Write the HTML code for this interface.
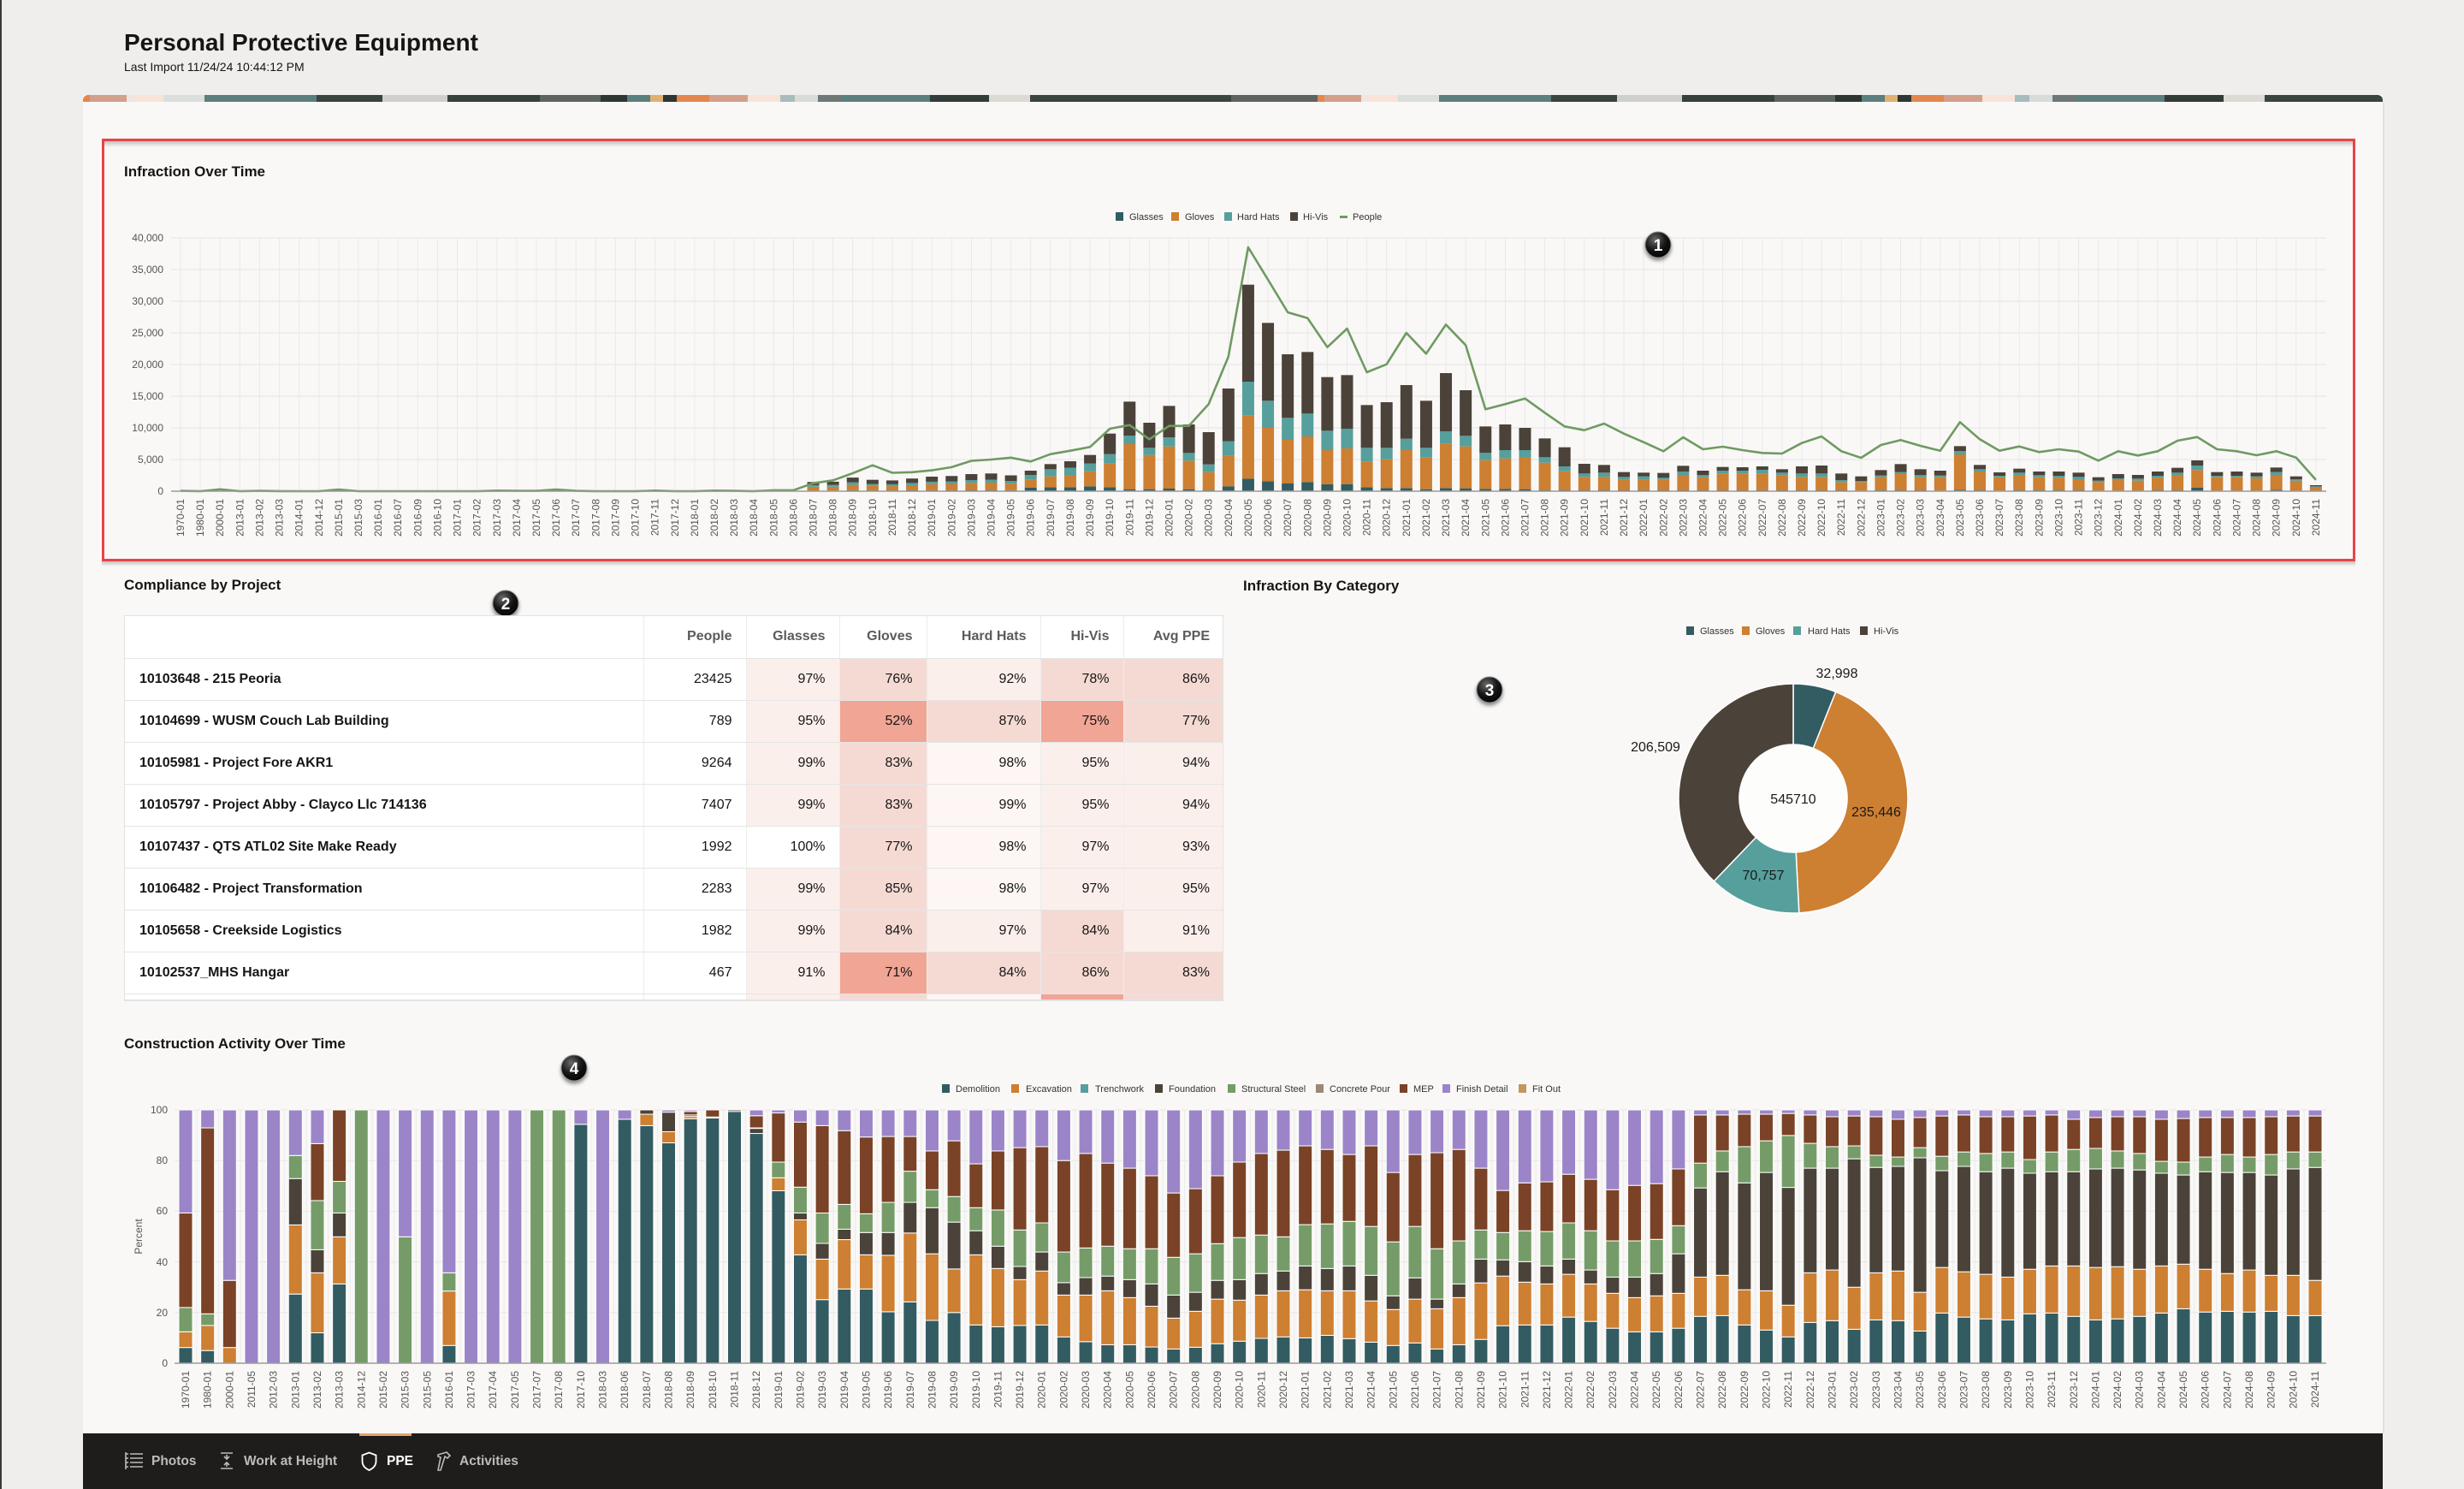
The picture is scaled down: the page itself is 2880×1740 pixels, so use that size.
<!DOCTYPE html>
<html><head><meta charset="utf-8">
<style>
*{margin:0;padding:0;box-sizing:border-box}
html,body{width:2880px;height:1740px;overflow:hidden}
body{background:#efeeec;font-family:"Liberation Sans",sans-serif;position:relative;color:#161513}
#s{position:absolute;left:0;top:0}
svg text{font-family:"Liberation Sans",sans-serif}
.ttl{font-size:17px;font-weight:bold;fill:#161513}
.yl{font-size:12px;fill:#555;text-anchor:end}
.xl text{font-size:12px;fill:#555;text-anchor:end;dominant-baseline:central}
.lg{font-size:11px;fill:#333}
.dl{font-size:16px;fill:#1a1a1a;text-anchor:middle}
.nav{font-size:15.5px;font-weight:bold;fill:#bcbcbc}
.mk{font-size:19px;font-weight:bold;fill:#fff;text-anchor:middle}
#tbl{position:absolute;left:145px;top:719px;width:1285px;height:451px;overflow:hidden;background:#fff;border:1px solid #e2e2e2;border-bottom:2px solid #e2e2e2}
#tbl table{border-collapse:collapse;table-layout:fixed;width:1284px;font-family:"Liberation Sans",sans-serif;font-size:16px;color:#161513}
#tbl td,#tbl th{height:49px;border-bottom:1px solid #e5e5e5;border-left:1px solid #ececec;text-align:right;padding:0 16px 0 0;white-space:nowrap;vertical-align:middle}
#tbl th{font-weight:bold;color:#5b5b5b}
#tbl td.n,#tbl th.n{text-align:left;padding-left:17px;font-weight:bold;border-left:none}
.L{background:#fbefec}.F{background:#fdf6f4}.P{background:#f5dad4}.S{background:#f0a595}.W{background:#fff}
</style></head><body>
<svg id="s" width="2880" height="1740" viewBox="0 0 2880 1740" xmlns="http://www.w3.org/2000/svg">
<defs>
<linearGradient id="bn" gradientUnits="userSpaceOnUse" x1="239" y1="0" x2="1682" y2="0" spreadMethod="repeat">
<stop offset="0" stop-color="#5b7f7c"/><stop offset=".0908" stop-color="#5b7f7c"/>
<stop offset=".0908" stop-color="#3a4441"/><stop offset=".1441" stop-color="#3a4441"/>
<stop offset=".1441" stop-color="#cfcfcc"/><stop offset=".1968" stop-color="#cfcfcc"/>
<stop offset=".1968" stop-color="#38403d"/><stop offset=".2717" stop-color="#38403d"/>
<stop offset=".2717" stop-color="#5d6461"/><stop offset=".3209" stop-color="#5d6461"/>
<stop offset=".3209" stop-color="#2e3633"/><stop offset=".3423" stop-color="#2e3633"/>
<stop offset=".3423" stop-color="#5b7f7c"/><stop offset=".3611" stop-color="#5b7f7c"/>
<stop offset=".3611" stop-color="#e0b070"/><stop offset=".3714" stop-color="#e0b070"/>
<stop offset=".3714" stop-color="#2e3633"/><stop offset=".3825" stop-color="#2e3633"/>
<stop offset=".3825" stop-color="#e3874d"/><stop offset=".4089" stop-color="#e3874d"/>
<stop offset=".4089" stop-color="#d3a08c"/><stop offset=".4401" stop-color="#d3a08c"/>
<stop offset=".4401" stop-color="#f9e3d9"/><stop offset=".4664" stop-color="#f9e3d9"/>
<stop offset=".4664" stop-color="#a7bcbc"/><stop offset=".4782" stop-color="#a7bcbc"/>
<stop offset=".4782" stop-color="#d9dbd8"/><stop offset=".4969" stop-color="#d9dbd8"/>
<stop offset=".4969" stop-color="#6f7876"/><stop offset=".5163" stop-color="#6f7876"/>
<stop offset=".5163" stop-color="#5b7f7c"/><stop offset=".5877" stop-color="#5b7f7c"/>
<stop offset=".5877" stop-color="#323c39"/><stop offset=".6355" stop-color="#323c39"/>
<stop offset=".6355" stop-color="#dcdad5"/><stop offset=".6687" stop-color="#dcdad5"/>
<stop offset=".6687" stop-color="#3a4441"/><stop offset=".8316" stop-color="#3a4441"/>
<stop offset=".8316" stop-color="#5d6461"/><stop offset=".9016" stop-color="#5d6461"/>
<stop offset=".9016" stop-color="#e3874d"/><stop offset=".9072" stop-color="#e3874d"/>
<stop offset=".9072" stop-color="#d3a08c"/><stop offset=".9370" stop-color="#d3a08c"/>
<stop offset=".9370" stop-color="#eee6e0"/><stop offset=".9425" stop-color="#eee6e0"/>
<stop offset=".9425" stop-color="#f9e3d9"/><stop offset=".9667" stop-color="#f9e3d9"/>
<stop offset=".9667" stop-color="#dcdedc"/><stop offset="1" stop-color="#dcdedc"/>
</linearGradient>
<linearGradient id="ish" x1="0" y1="0" x2="0" y2="1"><stop offset="0" stop-color="#000" stop-opacity=".22"/><stop offset="1" stop-color="#000" stop-opacity="0"/></linearGradient>
<radialGradient id="mkg" cx=".38" cy=".3" r=".75"><stop offset="0" stop-color="#6b6b6b"/><stop offset=".55" stop-color="#161616"/><stop offset="1" stop-color="#000"/></radialGradient>
<filter id="sh" x="-60%" y="-60%" width="220%" height="220%"><feDropShadow dx="0" dy="3" stdDeviation="2" flood-color="#000" flood-opacity=".45"/></filter>
</defs>

<rect x="0" y="0" width="2" height="1740" fill="#3a3a3a"/>
<!-- header -->
<text x="145" y="59" font-size="28" font-weight="bold" fill="#161513">Personal Protective Equipment</text>
<text x="145" y="83" font-size="14" fill="#161513">Last Import 11/24/24 10:44:12 PM</text>

<!-- card -->
<rect x="97" y="111" width="2688" height="1564" fill="#f9f8f6"/>
<rect x="2785" y="119" width="2" height="1556" fill="#e2e1de"/>
<path d="M97 119V117a6 6 0 0 1 6-6H2779a6 6 0 0 1 6 6V119Z" fill="url(#bn)"/>

<!-- red box -->
<rect x="122" y="165" width="2628" height="7" fill="url(#ish)"/>
<rect x="119" y="656" width="2634" height="6" fill="url(#ish)"/>
<rect x="120.5" y="163.5" width="2631" height="491" fill="none" stroke="#ea4346" stroke-width="3"/>

<!-- TOP CHART -->
<text x="145" y="206" class="ttl">Infraction Over Time</text>
<g>
<rect x="1304" y="248" width="9" height="10" fill="#325c62"/><text x="1320" y="257" class="lg">Glasses</text>
<rect x="1369" y="248" width="9" height="10" fill="#cd7f32"/><text x="1385" y="257" class="lg">Gloves</text>
<rect x="1431" y="248" width="9" height="10" fill="#569f9c"/><text x="1446" y="257" class="lg">Hard Hats</text>
<rect x="1508" y="248" width="9" height="10" fill="#4b4239"/><text x="1523" y="257" class="lg">Hi-Vis</text>
<rect x="1566" y="252" width="9" height="3" fill="#6f9a62"/><text x="1581" y="257" class="lg">People</text>
</g>
<path d="M200 278H2719M200 315H2719M200 352H2719M200 389H2719M200 426H2719M200 463H2719M200 500H2719M200 537H2719" stroke="#e4e4e9" stroke-width="1" fill="none"/>
<g id="vg1"></g>
<g id="bars1"></g>
<path d="M200 574H2719" stroke="#9b9b9b" stroke-width="1.5"/>
<text x="191" y="282" class="yl">40,000</text>
<text x="191" y="319" class="yl">35,000</text>
<text x="191" y="356" class="yl">30,000</text>
<text x="191" y="393" class="yl">25,000</text>
<text x="191" y="430" class="yl">20,000</text>
<text x="191" y="467" class="yl">15,000</text>
<text x="191" y="504" class="yl">10,000</text>
<text x="191" y="541" class="yl">5,000</text>
<text x="191" y="578" class="yl">0</text>
<g class="xl" transform="rotate(-90)">
<text x="-583" y="211">1970-01</text>
<text x="-583" y="234.1">1980-01</text>
<text x="-583" y="257.2">2000-01</text>
<text x="-583" y="280.3">2013-01</text>
<text x="-583" y="303.4">2013-02</text>
<text x="-583" y="326.6">2013-03</text>
<text x="-583" y="349.7">2014-01</text>
<text x="-583" y="372.8">2014-12</text>
<text x="-583" y="395.9">2015-01</text>
<text x="-583" y="419">2015-03</text>
<text x="-583" y="442.1">2016-01</text>
<text x="-583" y="465.2">2016-07</text>
<text x="-583" y="488.3">2016-09</text>
<text x="-583" y="511.4">2016-10</text>
<text x="-583" y="534.5">2017-01</text>
<text x="-583" y="557.7">2017-02</text>
<text x="-583" y="580.8">2017-03</text>
<text x="-583" y="603.9">2017-04</text>
<text x="-583" y="627">2017-05</text>
<text x="-583" y="650.1">2017-06</text>
<text x="-583" y="673.2">2017-07</text>
<text x="-583" y="696.3">2017-08</text>
<text x="-583" y="719.4">2017-09</text>
<text x="-583" y="742.5">2017-10</text>
<text x="-583" y="765.6">2017-11</text>
<text x="-583" y="788.8">2017-12</text>
<text x="-583" y="811.9">2018-01</text>
<text x="-583" y="835">2018-02</text>
<text x="-583" y="858.1">2018-03</text>
<text x="-583" y="881.2">2018-04</text>
<text x="-583" y="904.3">2018-05</text>
<text x="-583" y="927.4">2018-06</text>
<text x="-583" y="950.5">2018-07</text>
<text x="-583" y="973.6">2018-08</text>
<text x="-583" y="996.7">2018-09</text>
<text x="-583" y="1019.9">2018-10</text>
<text x="-583" y="1043">2018-11</text>
<text x="-583" y="1066.1">2018-12</text>
<text x="-583" y="1089.2">2019-01</text>
<text x="-583" y="1112.3">2019-02</text>
<text x="-583" y="1135.4">2019-03</text>
<text x="-583" y="1158.5">2019-04</text>
<text x="-583" y="1181.6">2019-05</text>
<text x="-583" y="1204.7">2019-06</text>
<text x="-583" y="1227.8">2019-07</text>
<text x="-583" y="1251">2019-08</text>
<text x="-583" y="1274.1">2019-09</text>
<text x="-583" y="1297.2">2019-10</text>
<text x="-583" y="1320.3">2019-11</text>
<text x="-583" y="1343.4">2019-12</text>
<text x="-583" y="1366.5">2020-01</text>
<text x="-583" y="1389.6">2020-02</text>
<text x="-583" y="1412.7">2020-03</text>
<text x="-583" y="1435.8">2020-04</text>
<text x="-583" y="1458.9">2020-05</text>
<text x="-583" y="1482.1">2020-06</text>
<text x="-583" y="1505.2">2020-07</text>
<text x="-583" y="1528.3">2020-08</text>
<text x="-583" y="1551.4">2020-09</text>
<text x="-583" y="1574.5">2020-10</text>
<text x="-583" y="1597.6">2020-11</text>
<text x="-583" y="1620.7">2020-12</text>
<text x="-583" y="1643.8">2021-01</text>
<text x="-583" y="1666.9">2021-02</text>
<text x="-583" y="1690">2021-03</text>
<text x="-583" y="1713.2">2021-04</text>
<text x="-583" y="1736.3">2021-05</text>
<text x="-583" y="1759.4">2021-06</text>
<text x="-583" y="1782.5">2021-07</text>
<text x="-583" y="1805.6">2021-08</text>
<text x="-583" y="1828.7">2021-09</text>
<text x="-583" y="1851.8">2021-10</text>
<text x="-583" y="1874.9">2021-11</text>
<text x="-583" y="1898">2021-12</text>
<text x="-583" y="1921.1">2022-01</text>
<text x="-583" y="1944.3">2022-02</text>
<text x="-583" y="1967.4">2022-03</text>
<text x="-583" y="1990.5">2022-04</text>
<text x="-583" y="2013.6">2022-05</text>
<text x="-583" y="2036.7">2022-06</text>
<text x="-583" y="2059.8">2022-07</text>
<text x="-583" y="2082.9">2022-08</text>
<text x="-583" y="2106">2022-09</text>
<text x="-583" y="2129.1">2022-10</text>
<text x="-583" y="2152.2">2022-11</text>
<text x="-583" y="2175.4">2022-12</text>
<text x="-583" y="2198.5">2023-01</text>
<text x="-583" y="2221.6">2023-02</text>
<text x="-583" y="2244.7">2023-03</text>
<text x="-583" y="2267.8">2023-04</text>
<text x="-583" y="2290.9">2023-05</text>
<text x="-583" y="2314">2023-06</text>
<text x="-583" y="2337.1">2023-07</text>
<text x="-583" y="2360.2">2023-08</text>
<text x="-583" y="2383.3">2023-09</text>
<text x="-583" y="2406.5">2023-10</text>
<text x="-583" y="2429.6">2023-11</text>
<text x="-583" y="2452.7">2023-12</text>
<text x="-583" y="2475.8">2024-01</text>
<text x="-583" y="2498.9">2024-02</text>
<text x="-583" y="2522">2024-03</text>
<text x="-583" y="2545.1">2024-04</text>
<text x="-583" y="2568.2">2024-05</text>
<text x="-583" y="2591.3">2024-06</text>
<text x="-583" y="2614.4">2024-07</text>
<text x="-583" y="2637.6">2024-08</text>
<text x="-583" y="2660.7">2024-09</text>
<text x="-583" y="2683.8">2024-10</text>
<text x="-583" y="2706.9">2024-11</text>
</g>

<!-- Compliance title -->
<text x="145" y="689" class="ttl">Compliance by Project</text>

<!-- DONUT -->
<text x="1453" y="690" class="ttl">Infraction By Category</text>
<rect x="1971" y="732" width="9" height="10" fill="#325c62"/><text x="1987" y="741" class="lg">Glasses</text>
<rect x="2036" y="732" width="9" height="10" fill="#cd7f32"/><text x="2052" y="741" class="lg">Gloves</text>
<rect x="2096" y="732" width="9" height="10" fill="#569f9c"/><text x="2113" y="741" class="lg">Hard Hats</text>
<rect x="2174" y="732" width="9" height="10" fill="#4b4239"/><text x="2190" y="741" class="lg">Hi-Vis</text>
<g stroke="#fff" stroke-width="1.5">
<path d="M2096,799 A134,134 0 0 1 2145.70,808.55 L2119.37,874.49 A63,63 0 0 0 2096,870 Z" fill="#325c62"/>
<path d="M2145.70,808.55 A134,134 0 0 1 2102.81,1066.83 L2099.20,995.92 A63,63 0 0 0 2119.37,874.49 Z" fill="#cd7f32"/>
<path d="M2102.81,1066.83 A134,134 0 0 1 2003.30,1029.76 L2052.42,978.49 A63,63 0 0 0 2099.20,995.92 Z" fill="#569f9c"/>
<path d="M2003.30,1029.76 A134,134 0 0 1 2096,799 L2096,870 A63,63 0 0 0 2052.42,978.49 Z" fill="#4b4239"/>
</g>
<circle cx="2096" cy="933" r="62" fill="#fdfdfc"/>
<text x="2147" y="792" class="dl">32,998</text>
<text x="2193" y="954" class="dl">235,446</text>
<text x="2061" y="1028" class="dl">70,757</text>
<text x="1935" y="878" class="dl">206,509</text>
<text x="2096" y="939" class="dl" font-size="17">545710</text>

<!-- BOTTOM CHART -->
<text x="145" y="1225" class="ttl">Construction Activity Over Time</text>
<g>
<rect x="1101" y="1267" width="9" height="10" fill="#325c62"/><text x="1117" y="1276" class="lg">Demolition</text>
<rect x="1182" y="1267" width="9" height="10" fill="#cd7f32"/><text x="1199" y="1276" class="lg">Excavation</text>
<rect x="1263" y="1267" width="9" height="10" fill="#569f9c"/><text x="1280" y="1276" class="lg">Trenchwork</text>
<rect x="1350" y="1267" width="9" height="10" fill="#4b4239"/><text x="1366" y="1276" class="lg">Foundation</text>
<rect x="1435" y="1267" width="9" height="10" fill="#759c68"/><text x="1451" y="1276" class="lg">Structural Steel</text>
<rect x="1538" y="1267" width="9" height="10" fill="#9c8878"/><text x="1554" y="1276" class="lg">Concrete Pour</text>
<rect x="1636" y="1267" width="9" height="10" fill="#7a4226"/><text x="1652" y="1276" class="lg">MEP</text>
<rect x="1686" y="1267" width="9" height="10" fill="#9b85c8"/><text x="1702" y="1276" class="lg">Finish Detail</text>
<rect x="1775" y="1267" width="9" height="10" fill="#c4955e"/><text x="1791" y="1276" class="lg">Fit Out</text>
</g>
<path d="M204 1297H2719M204 1356.2H2719M204 1415.4H2719M204 1474.6H2719M204 1533.8H2719" stroke="#e6e6e8" stroke-width="1" fill="none"/>
<g id="vg2"></g>
<g id="bars2"></g>
<path d="M204 1593H2719" stroke="#9b9b9b" stroke-width="1.5"/>
<text x="196" y="1301" class="yl">100</text>
<text x="196" y="1360" class="yl">80</text>
<text x="196" y="1419" class="yl">60</text>
<text x="196" y="1479" class="yl">40</text>
<text x="196" y="1538" class="yl">20</text>
<text x="196" y="1597" class="yl">0</text>
<text transform="translate(166,1445) rotate(-90)" text-anchor="middle" font-size="12" fill="#555">Percent</text>
<g class="xl" transform="rotate(-90)">
<text x="-1602" y="217">1970-01</text>
<text x="-1602" y="242.7">1980-01</text>
<text x="-1602" y="268.3">2000-01</text>
<text x="-1602" y="294">2011-05</text>
<text x="-1602" y="319.6">2012-03</text>
<text x="-1602" y="345.3">2013-01</text>
<text x="-1602" y="371">2013-02</text>
<text x="-1602" y="396.6">2013-03</text>
<text x="-1602" y="422.3">2014-12</text>
<text x="-1602" y="447.9">2015-02</text>
<text x="-1602" y="473.6">2015-03</text>
<text x="-1602" y="499.3">2015-05</text>
<text x="-1602" y="524.9">2016-01</text>
<text x="-1602" y="550.6">2017-03</text>
<text x="-1602" y="576.2">2017-04</text>
<text x="-1602" y="601.9">2017-05</text>
<text x="-1602" y="627.6">2017-07</text>
<text x="-1602" y="653.2">2017-08</text>
<text x="-1602" y="678.9">2017-10</text>
<text x="-1602" y="704.5">2018-03</text>
<text x="-1602" y="730.2">2018-06</text>
<text x="-1602" y="755.9">2018-07</text>
<text x="-1602" y="781.5">2018-08</text>
<text x="-1602" y="807.2">2018-09</text>
<text x="-1602" y="832.8">2018-10</text>
<text x="-1602" y="858.5">2018-11</text>
<text x="-1602" y="884.2">2018-12</text>
<text x="-1602" y="909.8">2019-01</text>
<text x="-1602" y="935.5">2019-02</text>
<text x="-1602" y="961.1">2019-03</text>
<text x="-1602" y="986.8">2019-04</text>
<text x="-1602" y="1012.5">2019-05</text>
<text x="-1602" y="1038.1">2019-06</text>
<text x="-1602" y="1063.8">2019-07</text>
<text x="-1602" y="1089.4">2019-08</text>
<text x="-1602" y="1115.1">2019-09</text>
<text x="-1602" y="1140.8">2019-10</text>
<text x="-1602" y="1166.4">2019-11</text>
<text x="-1602" y="1192.1">2019-12</text>
<text x="-1602" y="1217.7">2020-01</text>
<text x="-1602" y="1243.4">2020-02</text>
<text x="-1602" y="1269.1">2020-03</text>
<text x="-1602" y="1294.7">2020-04</text>
<text x="-1602" y="1320.4">2020-05</text>
<text x="-1602" y="1346">2020-06</text>
<text x="-1602" y="1371.7">2020-07</text>
<text x="-1602" y="1397.4">2020-08</text>
<text x="-1602" y="1423">2020-09</text>
<text x="-1602" y="1448.7">2020-10</text>
<text x="-1602" y="1474.3">2020-11</text>
<text x="-1602" y="1500">2020-12</text>
<text x="-1602" y="1525.7">2021-01</text>
<text x="-1602" y="1551.3">2021-02</text>
<text x="-1602" y="1577">2021-03</text>
<text x="-1602" y="1602.6">2021-04</text>
<text x="-1602" y="1628.3">2021-05</text>
<text x="-1602" y="1654">2021-06</text>
<text x="-1602" y="1679.6">2021-07</text>
<text x="-1602" y="1705.3">2021-08</text>
<text x="-1602" y="1730.9">2021-09</text>
<text x="-1602" y="1756.6">2021-10</text>
<text x="-1602" y="1782.3">2021-11</text>
<text x="-1602" y="1807.9">2021-12</text>
<text x="-1602" y="1833.6">2022-01</text>
<text x="-1602" y="1859.2">2022-02</text>
<text x="-1602" y="1884.9">2022-03</text>
<text x="-1602" y="1910.6">2022-04</text>
<text x="-1602" y="1936.2">2022-05</text>
<text x="-1602" y="1961.9">2022-06</text>
<text x="-1602" y="1987.5">2022-07</text>
<text x="-1602" y="2013.2">2022-08</text>
<text x="-1602" y="2038.9">2022-09</text>
<text x="-1602" y="2064.5">2022-10</text>
<text x="-1602" y="2090.2">2022-11</text>
<text x="-1602" y="2115.8">2022-12</text>
<text x="-1602" y="2141.5">2023-01</text>
<text x="-1602" y="2167.2">2023-02</text>
<text x="-1602" y="2192.8">2023-03</text>
<text x="-1602" y="2218.5">2023-04</text>
<text x="-1602" y="2244.1">2023-05</text>
<text x="-1602" y="2269.8">2023-06</text>
<text x="-1602" y="2295.5">2023-07</text>
<text x="-1602" y="2321.1">2023-08</text>
<text x="-1602" y="2346.8">2023-09</text>
<text x="-1602" y="2372.4">2023-10</text>
<text x="-1602" y="2398.1">2023-11</text>
<text x="-1602" y="2423.8">2023-12</text>
<text x="-1602" y="2449.4">2024-01</text>
<text x="-1602" y="2475.1">2024-02</text>
<text x="-1602" y="2500.7">2024-03</text>
<text x="-1602" y="2526.4">2024-04</text>
<text x="-1602" y="2552.1">2024-05</text>
<text x="-1602" y="2577.7">2024-06</text>
<text x="-1602" y="2603.4">2024-07</text>
<text x="-1602" y="2629">2024-08</text>
<text x="-1602" y="2654.7">2024-09</text>
<text x="-1602" y="2680.4">2024-10</text>
<text x="-1602" y="2706">2024-11</text>
</g>

<!-- markers -->
<g filter="url(#sh)">
<circle cx="1938" cy="286" r="15" fill="url(#mkg)" stroke="#8a8a8a" stroke-width="1"/>
<circle cx="591" cy="705" r="15" fill="url(#mkg)" stroke="#8a8a8a" stroke-width="1"/>
<circle cx="1741" cy="806" r="15" fill="url(#mkg)" stroke="#8a8a8a" stroke-width="1"/>
<circle cx="671" cy="1248" r="15" fill="url(#mkg)" stroke="#8a8a8a" stroke-width="1"/>
</g>
<text x="1938" y="293" class="mk">1</text>
<text x="591" y="712" class="mk">2</text>
<text x="1741" y="813" class="mk">3</text>
<text x="671" y="1255" class="mk">4</text>

<!-- NAV -->
<rect x="97" y="1675" width="2688" height="65" fill="#1e1d1b"/>
<rect x="420" y="1675" width="61" height="3" fill="#e3a46a"/>
<g stroke="#bcbcbc" stroke-width="1.6" fill="none">
<path d="M147 1699h3M152 1699h15M147 1704h3M152 1704h15M147 1709h3M152 1709h15M147 1714h3M152 1714h15M147 1697v20"/>
<path d="M258 1698h14M258 1716h14M265 1700v5M262 1702l3 3 3-3M265 1714v-5M262 1712l3-3 3 3"/>
<path d="M512 1700l10-3 4 4-3 3-3-2-5 16h-3l3-15-3-1z"/>
</g>
<path d="M431.5 1697.5l8 3v7c0 5.5-3.5 8.5-8 10.5c-4.5-2-8-5-8-10.5v-7z" stroke="#fff" stroke-width="1.8" fill="none"/>
<text x="177" y="1712" class="nav">Photos</text>
<text x="285" y="1712" class="nav">Work at Height</text>
<text x="452" y="1712" class="nav" fill="#fff" style="fill:#fff">PPE</text>
<text x="537" y="1712" class="nav">Activities</text>
</svg>

<div id="tbl"><table>
<colgroup><col style="width:606px"><col style="width:120px"><col style="width:109px"><col style="width:102px"><col style="width:133px"><col style="width:97px"><col style="width:117px"></colgroup>
<tr><th class="n"></th><th>People</th><th>Glasses</th><th>Gloves</th><th>Hard Hats</th><th>Hi-Vis</th><th>Avg PPE</th></tr>
<tr><td class="n">10103648 - 215 Peoria</td><td>23425</td><td class="L">97%</td><td class="P">76%</td><td class="L">92%</td><td class="P">78%</td><td class="P">86%</td></tr>
<tr><td class="n">10104699 - WUSM Couch Lab Building</td><td>789</td><td class="L">95%</td><td class="S">52%</td><td class="P">87%</td><td class="S">75%</td><td class="P">77%</td></tr>
<tr><td class="n">10105981 - Project Fore AKR1</td><td>9264</td><td class="L">99%</td><td class="P">83%</td><td class="F">98%</td><td class="L">95%</td><td class="L">94%</td></tr>
<tr><td class="n">10105797 - Project Abby - Clayco Llc 714136</td><td>7407</td><td class="L">99%</td><td class="P">83%</td><td class="F">99%</td><td class="L">95%</td><td class="L">94%</td></tr>
<tr><td class="n">10107437 - QTS ATL02 Site Make Ready</td><td>1992</td><td class="W">100%</td><td class="P">77%</td><td class="F">98%</td><td class="L">97%</td><td class="L">93%</td></tr>
<tr><td class="n">10106482 - Project Transformation</td><td>2283</td><td class="L">99%</td><td class="P">85%</td><td class="F">98%</td><td class="L">97%</td><td class="L">95%</td></tr>
<tr><td class="n">10105658 - Creekside Logistics</td><td>1982</td><td class="L">99%</td><td class="P">84%</td><td class="L">97%</td><td class="P">84%</td><td class="L">91%</td></tr>
<tr><td class="n">10102537_MHS Hangar</td><td>467</td><td class="L">91%</td><td class="S">71%</td><td class="P">84%</td><td class="P">86%</td><td class="P">83%</td></tr>
<tr><td class="n"></td><td></td><td class="L"></td><td class="P"></td><td class="F"></td><td class="S"></td><td class="P"></td></tr>
</table></div>

<script>
(function(){
var NS='http://www.w3.org/2000/svg';
function el(p,tag,a){var e=document.createElementNS(NS,tag);for(var k in a)e.setAttribute(k,a[k]);p.appendChild(e);return e;}
var i,k,d='';
for(i=0;i<109;i++){d+='M'+(211+i*23.11).toFixed(1)+' 278V574';}
el(document.getElementById('vg1'),'path',{d:d,stroke:'#e9e9ed','stroke-width':1,fill:'none'});
d='';
for(i=0;i<97;i++){d+='M'+(217+(i+0.5)*25.66).toFixed(1)+' 1297V1593';}
el(document.getElementById('vg2'),'path',{d:d,stroke:'#ececec','stroke-width':1,fill:'none'});

var early=[[90,700,950,1450],[90,700,1000,1500],[150,1000,1400,2150],[120,850,1150,1800],[120,800,1100,1700],[140,950,1300,2000],[150,1100,1500,2300],[150,1150,1550,2400],[180,1300,1750,2700],[180,1350,1800,2800],[160,1200,1600,2500]];
var late=[[1050,1022,1005,990],[1048,1010,985,967],[1048,1005,980,957],[1045,992,965,935],[1048,965,932,860],[1055,897,867,748],[1055,935,910,822],[1053,905,873,763],[1055,955,928,828],[1058,995,968,855],
[1045,938,887,702],[1018,797,678,338],[1027,840,745,472],[1035,882,805,582],[1030,870,790,574],[1038,918,850,662],[1037,912,843,655],[1048,958,910,760],[1051,950,910,750],[1051,918,878,690],
[1055,943,910,745],[1051,895,852,648],[1052,905,868,708],[1054,953,927,835],[1054,947,918,828],[1055,942,918,840],[1058,962,943,877],[1058,992,975,908],[1058,1012,1000,966],[1058,1012,997,970],
[1059,1022,1012,995],[1059,1022,1010,997],[1059,1022,1015,998],[1059,1005,993,973],[1059,1013,1005,990],[1059,1000,990,977],[1059,1000,990,978],[1059,1000,987,975],[1059,1007,997,985],[1059,1012,1000,975],
[1059,1012,1000,972],[1059,1030,1023,1000],[1060,1030,1026,1010],[1058,1012,1007,988],[1058,1002,995,967],[1058,1013,1005,985],[1060,1012,1007,990],[1057,933,921,904],[1058,993,985,970],[1060,1013,1008,996],
[1058,1005,997,983],[1058,1013,1006,993],[1058,1015,1008,993],[1058,1020,1012,997],[1060,1030,1025,1013],[1060,1023,1017,1002],[1060,1025,1018,1005],[1058,1015,1008,993],[1058,1005,997,980],[1050,988,972,954],
[1060,1012,1008,995],[1060,1012,1008,993],[1060,1017,1010,997],[1057,1005,995,979],[1060,1025,1020,1010],[1061,1047,1045,1041]];
var cols=['#325c62','#cd7f32','#569f9c','#4b4239'];
var b1=document.getElementById('bars1');
for(i=32;i<109;i++){
 var tops;
 if(i<43){tops=early[i-32].map(function(v){return 574-v*0.0074;});}
 else{tops=late[i-43].map(function(z){return 220+z/3;});}
 var x=211+i*23.11-7,prev=574;
 for(k=0;k<4;k++){var t=tops[k];if(prev-t>0.1)el(b1,'rect',{x:x.toFixed(2),y:t.toFixed(2),width:14,height:(prev-t).toFixed(2),fill:cols[k]});prev=t;}
}
var pe=[50,0,300,0,50,20,0,0,250,0,0,0,0,0,0,0,100,50,50,250,50,0,0,0,100,0,0,100,50,0,150,150,1260,1710,2840,4100,2900,3000,3300,3800,4800,5000,5300];
var pz=[958,932,920,907,843,830,880,833,833,757,590,207,320,435,455,557,492,645,617,507,580,478,550,775,757,737,787,835,848,825,860,890,922,873,915,906,918,928,930,893,870,922,945,900,883,903,920,820,880,920,905,925,915,923,955,922,937,922,885,872,915,922,936,922,944,1022];
var pts=[];
for(i=0;i<109;i++){var y=i<43?574-pe[i]*0.0074:220+pz[i-43]/3;pts.push((211+i*23.11).toFixed(1)+','+y.toFixed(1));}
el(b1,'polyline',{points:pts.join(' '),fill:'none',stroke:'#6f9a62','stroke-width':2.6,'stroke-linejoin':'round'});

var bd=[[6.2,12.4,12.4,22,59.3],[5,14.9,14.9,19.5,92.9],[0,6.2,6.2,6.2,32.7],[0,0,0,0,0],[0,0,0,0,0],[27.3,54.6,72.9,82,82],[12,35.7,44.8,64.2,86.7],[31.3,49.9,59.3,71.8,100],[0,0,0,100,100],[0,0,0,0,0],
[0,0,0,49.9,49.9],[0,0,0,0,0],[7,28.5,28.5,35.7,35.7],[0,0,0,0,0],[0,0,0,0,0],[0,0,0,0,0],[0,0,0,100,100],[0,0,0,100,100],[94.3,94.3,94.3,94.3,94.3],[0,0,0,0,0],
[96.3,96.3,96.3,96.3,96.3],[93.8,98.3,100,100,100],[87,91.4,99.1,99.1,99.1],[96.5,97.4,98,98,99.4],[96.8,97.2,97.2,97.2,100],[99.4,99.4,100,100,100],[90.7,90.7,92.7,92.9,97.7],[68.1,73.2,73.2,79.4,98.8],[42.8,56.6,59.3,69.5,95.2],[25.1,41.1,47.3,59.3,93.8],
[29.3,48.8,52.9,62.7,91.8],[29.3,42.8,51.6,59,89.3],[20.3,42.6,51.6,63.5,89.5],[24.2,51.4,63.5,75.8,89.5],[16.9,43.2,61.4,68.5,83.8],[20,37.2,55.7,65.8,87.8],[15.1,42.8,52.3,61.4,78.7],[14.4,37.4,46.2,60.5,83.8],[14.9,33,38.2,52.6,85.1],[15.1,36.4,43.9,55.4,85.5],
[10.4,26.9,31.8,43.9,80],[8.5,26.9,33.8,45.5,82.8],[7.3,28.6,34.4,46.2,79],[7.3,25.9,33,45.2,77],[6.4,22.5,31.3,45.2,74],[5.6,17.8,26.9,41.8,67.2],[6.3,20.5,28,43.2,68.9],[7.7,25.3,32.7,47.2,74],[8.7,24.9,33,49.6,79.4],[9.8,26.9,35.4,50.6,82.8],
[10.4,28.6,36.4,49.9,84.1],[10,29,38.4,54.7,85.8],[11,28.6,37.4,55,84.4],[9.7,28.6,38.4,56,82.4],[8.3,24.6,34.7,54,85.8],[7,21.2,26.6,47.9,75.3],[8,25.3,33.7,54,82.4],[5.6,21.5,25.3,45.2,83.1],[7.3,25.9,31.3,48.3,84.4],[9.4,31.7,41.1,52.6,77],
[14.8,34.4,40.8,51.6,68.2],[15.1,32,40.1,52.3,71.2],[15.1,31.3,38.4,52,71.6],[18.2,35.1,41.1,55.4,74.6],[16.5,31.3,36.8,52.3,72.6],[13.8,27.6,34,48.3,68.5],[12.4,25.9,34,48.3,70.2],[12.4,26.6,35.4,48.9,70.9],[13.8,27.6,43.2,54.3,76.7],[18.5,34,69.2,79,98],
[18.8,34.7,75.6,83.8,98],[15.1,29,71.2,85.5,98.3],[13.1,28.6,75.3,87.8,98.3],[10.4,22.9,69.4,89.9,98.6],[16.1,35.7,77,86.8,98],[16.8,36.8,77,85.5,97.3],[13.4,30,80.7,85.8,97.6],[17.1,35.7,77.3,82.1,97.3],[16.8,36.4,77.7,81.4,96.3],[12.7,28,81.1,85.1,97],
[19.8,37.8,76,81.7,97.6],[18.2,36.1,77.7,83.4,98],[17.5,35.1,75.6,82.8,97.3],[17.1,34,77,83.4,97.3],[19.5,37.1,75,80.4,97.6],[19.8,38.4,75.6,83.4,98],[18.5,38.4,75.6,84.4,96.3],[17.1,37.8,76.7,84.8,97],[17.5,38.1,77,83.8,97.3],[18.5,37.1,76.3,82.8,97.3],
[19.8,38.4,75,79.7,96.3],[21.5,39.1,74.3,79.4,96.6],[20.2,37.1,75.6,81.4,97],[20.5,35.4,75.3,82.4,97],[20.2,36.8,75.3,81.4,97],[20.5,34.7,74.3,82.4,97.3],[18.8,34.7,76.7,83.4,97.6],[18.8,32.7,77.3,83.4,97.6]];
var bc=['#325c62','#cd7f32','#4b4239','#759c68','#7a4226','#9b85c8'];
var b2=document.getElementById('bars2');
for(i=0;i<bd.length;i++){
 var c=bd[i].concat([100]),x2=217+i*25.66-8,pv=0;
 for(k=0;k<6;k++){var tt=c[k];if(tt-pv>0.05){el(b2,'rect',{x:x2.toFixed(2),y:(1593-tt*2.96).toFixed(2),width:16,height:((tt-pv)*2.96).toFixed(2),fill:bc[k],stroke:'#fff','stroke-width':1});}pv=Math.max(pv,tt);}
}
})();
</script>
</body></html>
